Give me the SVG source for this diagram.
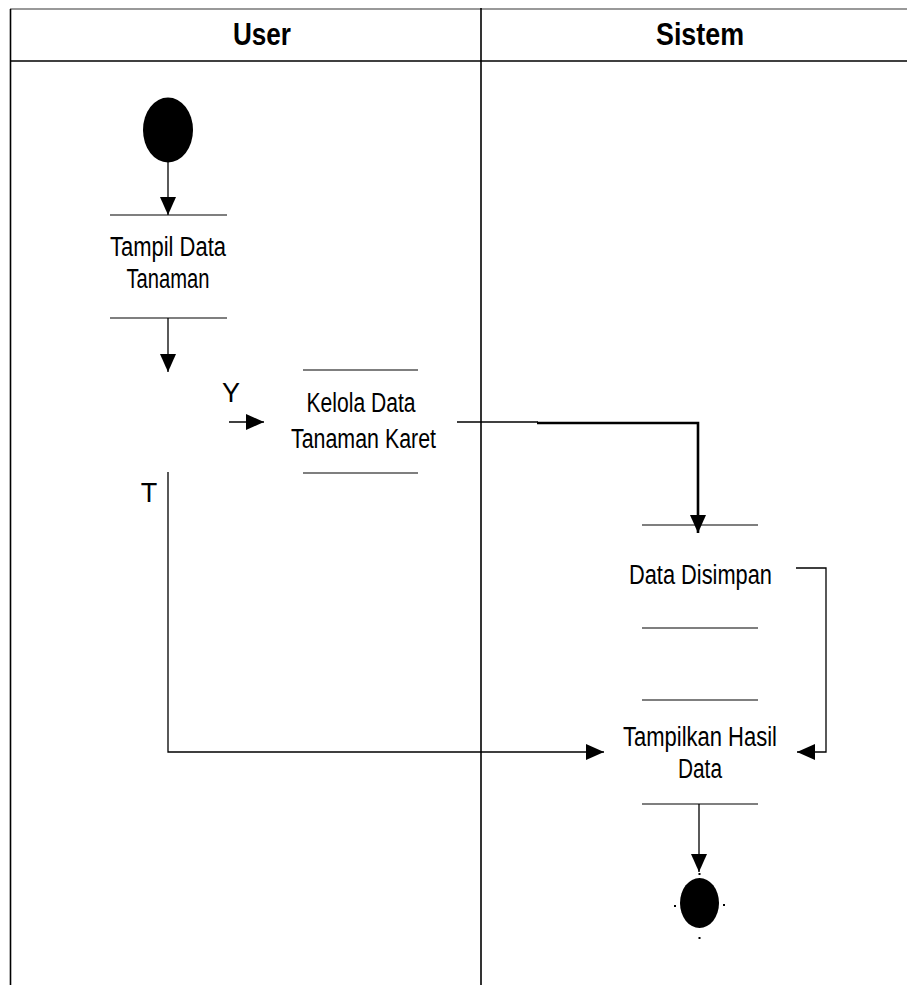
<svg xmlns="http://www.w3.org/2000/svg" width="907" height="985" viewBox="0 0 907 985">
  <style>
    .frame { stroke: #000; stroke-width: 1.6; fill: none; }
    .edge { stroke: #000; stroke-width: 1.3; fill: none; }
    .bar { stroke: #000; stroke-width: 1.2; }
    .head { font-family: "Liberation Sans", Arial, sans-serif; font-weight: bold; font-size: 32px; text-anchor: middle; fill: #000; }
    .lbl { font-family: "Liberation Sans", Arial, sans-serif; font-size: 27px; text-anchor: middle; fill: #000; }
  </style>
  <defs>
    <marker id="arrow" viewBox="0 0 18 16" refX="18" refY="8" markerWidth="18" markerHeight="16" markerUnits="userSpaceOnUse" orient="auto">
      <path d="M0,0 L18,8 L0,16 Z" fill="#000"/>
    </marker>
  </defs>
  <rect width="907" height="985" fill="#fff"/>

  <!-- swimlane frame -->
  <g id="lanes">
    <line x1="10" y1="9" x2="907" y2="9" stroke="#777" stroke-width="1.6"/>
    <line x1="10.5" y1="9" x2="10.5" y2="985" class="frame"/>
    <line x1="481" y1="8" x2="481" y2="985" class="frame"/>
    <line x1="10" y1="61" x2="907" y2="61" class="frame" stroke-width="2"/>
    <text class="head" x="262" y="45" textLength="58" lengthAdjust="spacingAndGlyphs">User</text>
    <text class="head" x="700" y="45" textLength="88" lengthAdjust="spacingAndGlyphs">Sistem</text>
  </g>

  <!-- connectors -->
  <g id="connectors">
    <line x1="168" y1="162" x2="168" y2="215" class="edge" marker-end="url(#arrow)"/>
    <line x1="168" y1="318" x2="168" y2="372" class="edge" marker-end="url(#arrow)"/>
    <line x1="229" y1="422" x2="264" y2="422" class="edge" marker-end="url(#arrow)"/>
    <line x1="457" y1="422" x2="538" y2="422" class="edge"/>
    <polyline points="537,423 698,423 698,533" fill="none" stroke="#000" stroke-width="2.6" marker-end="url(#arrow)"/>
    <polyline points="796,568 826,568 826,752 797,752" class="edge" marker-end="url(#arrow)"/>
    <polyline points="168,472 168,752 604,752" class="edge" marker-end="url(#arrow)"/>
    <line x1="699" y1="804" x2="699" y2="872" class="edge" marker-end="url(#arrow)"/>
    <text class="lbl" x="231" y="402">Y</text>
    <text class="lbl" x="149" y="502">T</text>
  </g>

  <!-- start node -->
  <g id="start">
    <ellipse cx="168" cy="130" rx="25" ry="32.5" fill="#000"/>
  </g>

  <g id="tampil-data">
    <line x1="110" y1="215" x2="227" y2="215" class="bar"/>
    <text class="lbl" x="168" y="256" textLength="116" lengthAdjust="spacingAndGlyphs">Tampil Data</text>
    <text class="lbl" x="168" y="288" textLength="83" lengthAdjust="spacingAndGlyphs">Tanaman</text>
    <line x1="110" y1="318" x2="227" y2="318" class="bar"/>
  </g>

  <g id="kelola-data">
    <line x1="303" y1="370" x2="418" y2="370" class="bar"/>
    <text class="lbl" x="361" y="412" textLength="109" lengthAdjust="spacingAndGlyphs">Kelola Data</text>
    <text class="lbl" x="363.5" y="448" textLength="145" lengthAdjust="spacingAndGlyphs">Tanaman Karet</text>
    <line x1="303" y1="473" x2="418" y2="473" class="bar"/>
  </g>

  <g id="data-disimpan">
    <line x1="642" y1="525" x2="758" y2="525" class="bar"/>
    <text class="lbl" x="700.5" y="584" textLength="143" lengthAdjust="spacingAndGlyphs">Data Disimpan</text>
    <line x1="642" y1="628" x2="758" y2="628" class="bar"/>
  </g>

  <g id="tampilkan-hasil">
    <line x1="642" y1="700" x2="758" y2="700" class="bar"/>
    <text class="lbl" x="700" y="746" textLength="154" lengthAdjust="spacingAndGlyphs">Tampilkan Hasil</text>
    <text class="lbl" x="700" y="778" textLength="44" lengthAdjust="spacingAndGlyphs">Data</text>
    <line x1="642" y1="804" x2="758" y2="804" class="bar"/>
  </g>

  <!-- end node with its selection handles -->
  <g id="end">
    <ellipse cx="699.5" cy="903" rx="19.5" ry="25" fill="#000"/>
    <rect x="674" y="905" width="2" height="2" fill="#000"/>
    <rect x="723" y="904" width="2" height="2" fill="#000"/>
    <rect x="698.5" y="937" width="2" height="2" fill="#000"/>
    <rect x="698.5" y="873" width="2" height="2" fill="#000"/>
  </g>
</svg>
